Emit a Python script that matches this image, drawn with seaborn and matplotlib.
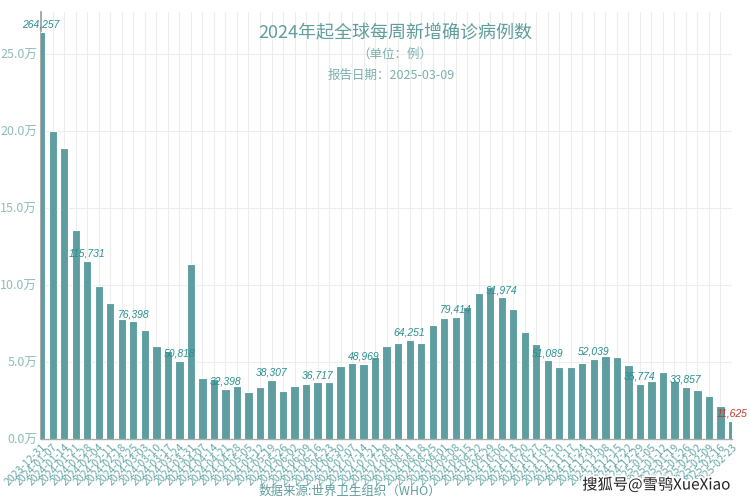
import pandas as pd
import numpy as np
import matplotlib
matplotlib.use("Agg")
import matplotlib.pyplot as plt
import matplotlib.patheffects as pe
from matplotlib.ticker import FuncFormatter, MultipleLocator
import seaborn as sns

# weekly dates (week start), 2023-12-31 .. 2025-02-23
weeks = pd.date_range("2023-12-31", "2025-02-23", freq="7D").strftime("%Y-%m-%d").tolist()

# new confirmed cases per week
cases = [264257, 200200, 189000, 136000, 115731, 99600, 88100, 77900, 76398, 71000,
         60400, 57300, 50818, 113400, 39800, 39200, 32398, 34400, 30700, 33800,
         38307, 31400, 34400, 35500, 36717, 37200, 47400, 49400, 48969, 53000,
         60200, 62300, 64251, 62100, 73800, 78400, 79414, 85500, 94800, 98700,
         91974, 84400, 69300, 61900, 51089, 46500, 46500, 49600, 52039, 53700,
         53500, 47800, 35774, 37900, 43700, 37900, 33857, 31800, 27900, 21400,
         11625]

df = pd.DataFrame({"week": weeks, "cases": cases})

sns.set_theme(style="white")
plt.rcParams['font.family'] = ['Noto Sans CJK SC', 'DejaVu Sans']
plt.rcParams['axes.unicode_minus'] = False

teal = "#5f9ea0"

fig = plt.figure(figsize=(7.5, 5), dpi=100)
ax = fig.add_axes([0.055, 0.122, 0.921, 0.854])

sns.barplot(data=df, x="week", y="cases", color=teal, width=0.72,
            edgecolor="white", linewidth=0.8, saturation=1, ax=ax, zorder=3)

ax.set_xlim(0, len(weeks) - 1)
ax.set_ylim(0, 277300)
ax.yaxis.set_major_locator(MultipleLocator(50000))
ax.yaxis.set_major_formatter(FuncFormatter(lambda v, p: f"{v/10000:.1f}万"))

ax.set_xticks(range(len(weeks)))
ax.set_xticklabels(weeks, rotation=45, ha="right", rotation_mode="anchor",
                   fontsize=7.6, color="#68a8a8")
ax.tick_params(axis="y", labelsize=9, colors="#8fbcbc", length=0, pad=3)
ax.tick_params(axis="x", length=0, pad=2)

ax.grid(True, axis="both", color="#ededed", linewidth=0.8, zorder=0)
ax.set_axisbelow(True)
ax.set_xlabel("")
ax.set_ylabel("")
for s in ["top", "right"]:
    ax.spines[s].set_visible(False)
ax.spines["left"].set_color("#999999")
ax.spines["left"].set_linewidth(1.2)
ax.spines["bottom"].set_color("#aaaaaa")
ax.spines["bottom"].set_linewidth(1.0)

# every 4th bar gets its value, the last one in red
for i in range(0, len(cases), 4):
    col = "#c0392b" if i == len(cases) - 1 else "#2a9090"
    ax.text(i, cases[i] + 1500, f"{cases[i]:,}", ha="center", va="bottom",
            fontsize=7.5, style="italic", color=col, family="Liberation Sans",
            zorder=5)

fig.text(0.527, 0.934, "2024年起全球每周新增确诊病例数", ha="center", va="center",
         fontsize=13, color="#5e9e9e")
fig.text(0.527, 0.892, "（单位：例）", ha="center", va="center",
         fontsize=9, color="#7aafaf")
fig.text(0.522, 0.850, "报告日期：2025-03-09", ha="center", va="center",
         fontsize=9, color="#7aafaf")
fig.text(0.467, 0.018, "数据来源:世界卫生组织（WHO）", ha="center", va="center",
         fontsize=9, color="#5f9ea0")
fig.text(0.875, 0.030, "搜狐号@雪鸮XueXiao", ha="center", va="center",
         fontsize=11, color="#222222",
         path_effects=[pe.withStroke(linewidth=3, foreground="white")])

fig.savefig("out.png", dpi=100)
